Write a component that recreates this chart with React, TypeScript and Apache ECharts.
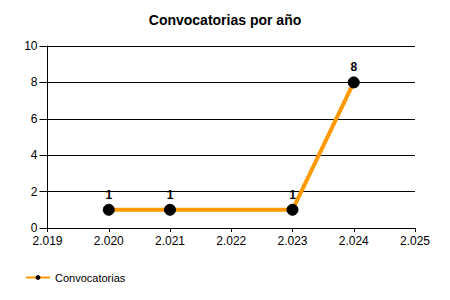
import React, { useEffect, useRef } from "react";
import * as echarts from "echarts";

const years = [2020, 2021, 2023, 2024];
const counts = [1, 1, 1, 8];
const seriesName = "Convocatorias";
const titleText = "Convocatorias por año";

export default function App() {
  const ref = useRef<HTMLDivElement>(null);
  useEffect(() => {
    if (!ref.current) return;
    const chart = echarts.init(ref.current, null, { renderer: "svg" });
    const font = "'Liberation Sans', Arial, sans-serif";
    chart.setOption({
      animation: false,
      textStyle: { fontFamily: font },
      title: {
        text: titleText,
        left: "center",
        top: 8,
        textStyle: { fontSize: 14, fontWeight: "bold", color: "#000", fontFamily: font },
      },
      grid: { left: 47.5, right: 35, top: 46, bottom: 72, containLabel: false },
      legend: {
        left: 20,
        bottom: 12,
        itemWidth: 24,
        itemHeight: 6,
        itemGap: 5,
        textStyle: { fontSize: 11, color: "#000", fontFamily: font },
      },
      xAxis: {
        type: "value",
        min: 2019,
        max: 2025,
        interval: 1,
        axisLine: { show: true, onZero: false, lineStyle: { color: "#000", width: 1 } },
        axisTick: { show: true, length: 4, lineStyle: { color: "#000" } },
        splitLine: { show: false },
        axisLabel: {
          color: "#000",
          fontSize: 12,
          margin: 7,
          fontFamily: font,
          formatter: (v: number) => {
            const s = String(v);
            return s.slice(0, 1) + "." + s.slice(1);
          },
        },
      },
      yAxis: {
        type: "value",
        min: 0,
        max: 10,
        interval: 2,
        axisLine: { show: true, onZero: false, lineStyle: { color: "#000", width: 1 } },
        axisTick: { show: true, length: 8, lineStyle: { color: "#000" } },
        splitLine: { show: true, lineStyle: { color: "#000", width: 1 } },
        axisLabel: { color: "#000", fontSize: 12, margin: 10, fontFamily: font },
      },
      series: [
        {
          name: seriesName,
          type: "line",
          data: years.map((y, i) => [y, counts[i]]),
          lineStyle: { color: "#FF9900", width: 4 },
          itemStyle: { color: "#000", borderColor: "#000" },
          symbol: "circle",
          symbolSize: 11,
          label: {
            show: true,
            position: "top",
            distance: 3,
            color: "#000",
            fontWeight: "bold",
            fontSize: 12,
            fontFamily: font,
          },
        },
      ],
    });
    return () => chart.dispose();
  }, []);
  return <div ref={ref} style={{ width: 450, height: 300, position: "absolute", left: 0, top: 0 }} />;
}
